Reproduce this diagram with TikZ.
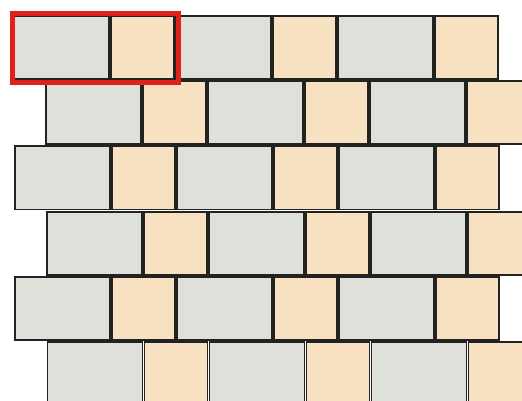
\documentclass[tikz,border=0pt]{standalone}
\definecolor{tilegray}{HTML}{E0E0DB}
\definecolor{tiletan}{HTML}{F8E1C1}
\definecolor{edge}{HTML}{222222}
\definecolor{mark}{HTML}{E1201C}
\begin{document}
\begin{tikzpicture}[x=1pt,y=-1pt,
  tileg/.style={fill=tilegray,draw=edge,line width=1.8pt},
  tilet/.style={fill=tiletan,draw=edge,line width=1.8pt},
  markbox/.style={draw=mark,line width=4.8pt}]
\useasboundingbox (0,0) rectangle (522,401);
\begin{scope}
\clip (0,0) rectangle (522,401);
\foreach \i in {0,...,5}{
  \pgfmathsetmacro{\xo}{14+32*mod(\i,2)+0.3*\i}
  \pgfmathsetmacro{\yo}{16+65.2*\i}
  \foreach \j in {0,1,2}{
    \pgfmathsetmacro{\b}{\xo+162*\j}
    \draw[tileg] (\b,\yo) rectangle ({\b+95},{\yo+63});
    \draw[tilet] ({\b+97},\yo) rectangle ({\b+160},{\yo+63});
  }
}
\end{scope}
\draw[markbox] (12.4,13.5) rectangle (178.5,82.2);
\end{tikzpicture}
\end{document}
